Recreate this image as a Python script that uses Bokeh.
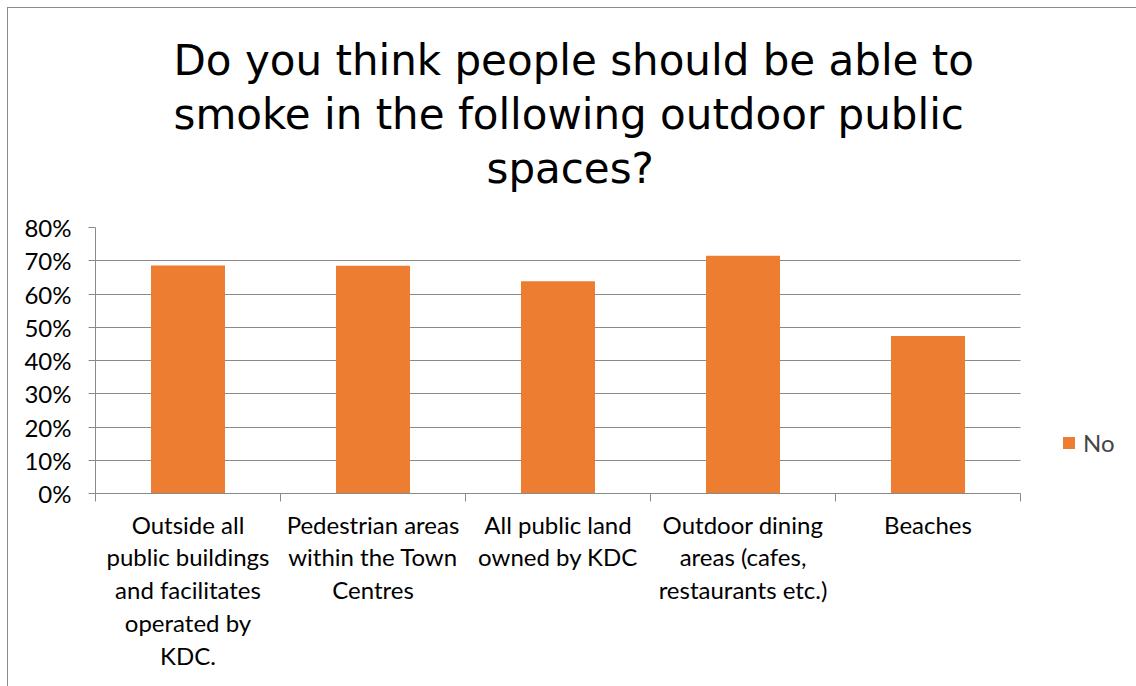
from bokeh.plotting import figure
from bokeh.models import (Range1d, FixedTicker, NumeralTickFormatter, Legend, LegendItem,
                          ColumnDataSource, Title, Grid)
from bokeh.embed import file_html
from bokeh.resources import INLINE

title_lines = [
    "Do you think people should be able to",
    "smoke in the following outdoor public",
    "spaces?",
]
categories = [
    "Outside all\npublic buildings\nand facilitates\noperated by\nKDC.",
    "Pedestrian areas\nwithin the Town\nCentres",
    "All public land\nowned by KDC",
    "Outdoor dining\nareas (cafes,\nrestaurants etc.)",
    "Beaches",
]
no_values = [0.686, 0.685, 0.638, 0.715, 0.474]
y_ticks = [0.0, 0.1, 0.2, 0.3, 0.4, 0.5, 0.6, 0.7, 0.8]
series_name = "No"

n = len(categories)
positions = [i + 0.5 for i in range(n)]
boundaries = [float(i) for i in range(n + 1)]

# frame extends to the right so the legend can live inside it (0..5 = categories)
x_end = 5.6
W, H = 1128, 678
left_b, top_b = 87, 219
frame_w = 1036
p = figure(width=W, height=H, output_backend="svg", toolbar_location=None,
           x_range=Range1d(0, x_end), y_range=Range1d(0, 0.8),
           min_border_left=left_b, min_border_right=W - left_b - frame_w,
           min_border_top=top_b, min_border_bottom=H - 485)
p.styles = {"margin-left": "8px", "margin-top": "8px", "outline": "1px solid #8c8c8c"}
p.outline_line_color = None
p.background_fill_color = "white"
p.border_fill_color = "white"

src = ColumnDataSource(dict(x=positions, top=no_values))
r = p.vbar(x="x", top="top", width=0.4, source=src, fill_color="#ED7D31", line_color=None)

grid_color = "#8a8a8a"
label_font = "Lato"

# x axis
xa = p.xaxis[0]
xa.bounds = (0, n)
xa.ticker = FixedTicker(ticks=positions, minor_ticks=boundaries)
xa.major_label_overrides = {pos: lab for pos, lab in zip(positions, categories)}
xa.major_tick_out = 0
xa.major_tick_in = 0
xa.minor_tick_out = 8
xa.minor_tick_in = 0
xa.minor_tick_line_color = grid_color
xa.axis_line_color = grid_color
xa.major_label_text_font = label_font
xa.major_label_text_font_size = "24px"
xa.major_label_text_line_height = 1.13
xa.major_label_text_color = "black"
xa.major_label_standoff = 8
xa.major_label_orientation = "horizontal"

# y axis
ya = p.yaxis[0]
ya.ticker = FixedTicker(ticks=y_ticks)
ya.formatter = NumeralTickFormatter(format="0%")
ya.major_tick_out = 7
ya.major_tick_in = 0
ya.minor_tick_out = 0
ya.minor_tick_in = 0
ya.major_tick_line_color = grid_color
ya.axis_line_color = grid_color
ya.major_label_text_font = label_font
ya.major_label_text_font_size = "24px"
ya.major_label_text_color = "black"
ya.major_label_standoff = 17

p.xgrid.visible = False
if "cross_bounds" in Grid.properties():
    p.ygrid.grid_line_color = grid_color
    p.ygrid.grid_line_width = 1
    p.ygrid.cross_bounds = (0, n)
else:
    p.ygrid.visible = False
    p.segment(x0=[0] * len(y_ticks), x1=[n] * len(y_ticks), y0=y_ticks, y1=y_ticks,
              line_color=grid_color, line_width=1, level="underlay")

# title: three centred lines (innermost first), plus a spacer next to the frame
title_font = "DejaVu Sans"
title_offsets = [78, 78, 391]
p.title.visible = False
spacer = Title(text=" ", text_font_size="1px", standoff=30)
p.add_layout(spacer, "above")
for line, off in reversed(list(zip(title_lines, title_offsets))):
    t = Title(text=line, align="left", offset=off, standoff=3,
              text_font=title_font, text_font_size="42px",
              text_font_style="normal", text_color="black")
    p.add_layout(t, "above")

legend = Legend(items=[LegendItem(label=series_name, renderers=[r])],
                location=(966, 36), orientation="vertical",
                glyph_width=15, glyph_height=15, label_standoff=7,
                label_text_font=label_font, label_text_font_size="24px",
                padding=0, margin=0, border_line_color=None,
                background_fill_alpha=0)
p.add_layout(legend)

open("out.html", "w").write(file_html(p, INLINE))
